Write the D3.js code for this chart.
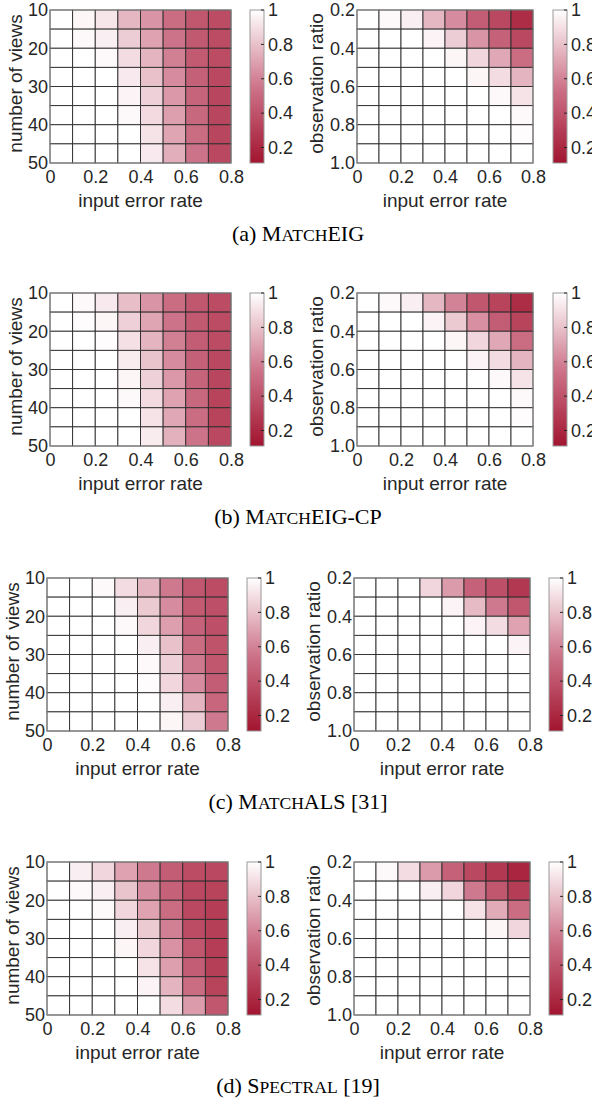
<!DOCTYPE html>
<html>
<head>
<meta charset="utf-8">
<script src="https://cdn.jsdelivr.net/npm/d3@7"></script>
<style>
  body { margin: 0; background: #fff; }
  svg { display: block; }
</style>
</head>
<body>
<div id="container"></div>
<script>
/* CONSTANTS AND GLOBALS */
const width = 592, height = 1102;
const plotH = 153, leftW = 181, rightW = 176, cbW = 14;

/* DATA */
const errRates = [0, 0.1, 0.2, 0.3, 0.4, 0.5, 0.6, 0.7];
const viewCounts = [10, 15, 20, 25, 30, 35, 40, 45];
const obsRatios = [0.2, 0.3, 0.4, 0.5, 0.6, 0.7, 0.8, 0.9];

const errTicks = [0, 0.2, 0.4, 0.6, 0.8];
const viewTicks = [10, 20, 30, 40, 50];
const obsTicks = [0.2, 0.4, 0.6, 0.8, 1.0];
const cbTicks = [0.2, 0.4, 0.6, 0.8, 1];

// rows = views / observation ratio, cols = input error rate
const eigViews = [
  [1, 0.97, 0.92, 0.77, 0.66, 0.52, 0.42, 0.37],
  [1, 0.98, 0.95, 0.84, 0.70, 0.55, 0.43, 0.37],
  [1, 1, 0.98, 0.89, 0.76, 0.59, 0.44, 0.37],
  [1, 1, 1, 0.93, 0.80, 0.63, 0.46, 0.35],
  [1, 1, 1, 0.96, 0.85, 0.67, 0.48, 0.34],
  [1, 1, 1, 0.98, 0.88, 0.69, 0.50, 0.34],
  [1, 1, 1, 1, 0.91, 0.71, 0.52, 0.34],
  [1, 1, 1, 1, 0.93, 0.74, 0.55, 0.35]
];
const eigObs = [
  [1, 0.98, 0.95, 0.77, 0.63, 0.45, 0.35, 0.22],
  [1, 1, 1, 0.96, 0.84, 0.66, 0.47, 0.35],
  [1, 1, 1, 1, 0.97, 0.87, 0.72, 0.52],
  [1, 1, 1, 1, 1, 0.97, 0.89, 0.76],
  [1, 1, 1, 1, 1, 1, 0.98, 0.91],
  [1, 1, 1, 1, 1, 1, 1, 0.98],
  [1, 1, 1, 1, 1, 1, 1, 0.99],
  [1, 1, 1, 1, 1, 1, 1, 1]
];
const eigCpViews = [
  [1, 0.98, 0.93, 0.79, 0.66, 0.52, 0.42, 0.37],
  [1, 0.99, 0.97, 0.85, 0.71, 0.55, 0.43, 0.37],
  [1, 1, 0.99, 0.90, 0.76, 0.59, 0.45, 0.37],
  [1, 1, 1, 0.94, 0.81, 0.63, 0.46, 0.35],
  [1, 1, 1, 0.97, 0.85, 0.67, 0.48, 0.34],
  [1, 1, 1, 0.98, 0.88, 0.70, 0.50, 0.33],
  [1, 1, 1, 1, 0.91, 0.72, 0.52, 0.33],
  [1, 1, 1, 1, 0.94, 0.75, 0.55, 0.35]
];
const eigCpObs = [
  [1, 0.98, 0.95, 0.77, 0.60, 0.42, 0.33, 0.22],
  [1, 1, 1, 0.96, 0.83, 0.64, 0.45, 0.33],
  [1, 1, 1, 1, 0.97, 0.87, 0.72, 0.52],
  [1, 1, 1, 1, 1, 0.96, 0.89, 0.76],
  [1, 1, 1, 1, 1, 1, 0.98, 0.91],
  [1, 1, 1, 1, 1, 1, 1, 0.98],
  [1, 1, 1, 1, 1, 1, 1, 0.99],
  [1, 1, 1, 1, 1, 1, 1, 1]
];
const alsViews = [
  [1, 1, 0.98, 0.89, 0.76, 0.57, 0.42, 0.37],
  [1, 1, 1, 0.95, 0.83, 0.63, 0.44, 0.39],
  [1, 1, 1, 0.98, 0.87, 0.69, 0.47, 0.39],
  [1, 1, 1, 1, 0.95, 0.80, 0.52, 0.40],
  [1, 1, 1, 1, 0.98, 0.85, 0.57, 0.42],
  [1, 1, 1, 1, 0.99, 0.87, 0.63, 0.45],
  [1, 1, 1, 1, 1, 0.95, 0.76, 0.49],
  [1, 1, 1, 1, 1, 0.97, 0.84, 0.57]
];
const alsObs = [
  [1, 1, 1, 0.87, 0.68, 0.47, 0.39, 0.27],
  [1, 1, 1, 1, 0.96, 0.78, 0.57, 0.42],
  [1, 1, 1, 1, 1, 0.96, 0.89, 0.70],
  [1, 1, 1, 1, 1, 1, 1, 0.96],
  [1, 1, 1, 1, 1, 1, 1, 1],
  [1, 1, 1, 1, 1, 1, 1, 1],
  [1, 1, 1, 1, 1, 1, 1, 1],
  [1, 1, 1, 1, 1, 1, 1, 1]
];
const specViews = [
  [1, 0.95, 0.87, 0.70, 0.57, 0.45, 0.37, 0.35],
  [1, 0.98, 0.95, 0.81, 0.63, 0.47, 0.35, 0.33],
  [1, 1, 0.98, 0.87, 0.70, 0.52, 0.35, 0.30],
  [1, 1, 1, 0.95, 0.83, 0.59, 0.37, 0.31],
  [1, 1, 1, 0.97, 0.87, 0.65, 0.42, 0.30],
  [1, 1, 1, 1, 0.91, 0.69, 0.45, 0.31],
  [1, 1, 1, 1, 0.96, 0.76, 0.52, 0.33],
  [1, 1, 1, 1, 1, 0.89, 0.68, 0.42]
];
const specObs = [
  [1, 0.98, 0.89, 0.68, 0.47, 0.35, 0.27, 0.19],
  [1, 1, 1, 0.95, 0.87, 0.57, 0.42, 0.30],
  [1, 1, 1, 1, 1, 0.91, 0.73, 0.52],
  [1, 1, 1, 1, 1, 1, 0.97, 0.87],
  [1, 1, 1, 1, 1, 1, 1, 1],
  [1, 1, 1, 1, 1, 1, 1, 1],
  [1, 1, 1, 1, 1, 1, 1, 1],
  [1, 1, 1, 1, 1, 1, 1, 1]
];

// caption pieces: [normal, small caps, normal]
const captions = [
  ["(a) M", "ATCH", "EIG"],
  ["(b) M", "ATCH", "EIG-CP"],
  ["(c) M", "ATCH", "ALS [31]"],
  ["(d) S", "PECTRAL", " [19]"]
];
const viewsData = [eigViews, eigCpViews, alsViews, specViews];
const obsData = [eigObs, eigCpObs, alsObs, specObs];

/* LAYOUT (row tops / left edges) */
const rows = [
  {top: 10,  lx: 50, rx: 357, lcb: 250, rcb: 553},
  {top: 293, lx: 50, rx: 357, lcb: 250, rcb: 553},
  {top: 578, lx: 47, rx: 354, lcb: 247, rcb: 549},
  {top: 862, lx: 47, rx: 354, lcb: 247, rcb: 549}
];

/* COLOR */
const colorScale = d3.scaleLinear()
  .domain([0.11, 0.55, 1])
  .range(["#a2142f", "#cd7389", "#ffffff"])
  .interpolate(d3.interpolateRgb)
  .clamp(true);

const svg = d3.select("#container").append("svg")
  .attr("width", width)
  .attr("height", height)
  .style("font-family", "'Liberation Sans', Arial, sans-serif");

const defs = svg.append("defs");
const grad = defs.append("linearGradient")
  .attr("id", "cbgrad")
  .attr("x1", 0).attr("y1", 1).attr("x2", 0).attr("y2", 0);
grad.selectAll("stop")
  .data(d3.range(0, 1.0001, 0.05))
  .join("stop")
  .attr("offset", d => d)
  .attr("stop-color", d => colorScale(0.11 + d * 0.89));

function fmt1(d) { return d === 0 ? "0" : d3.format(".1f")(d); }

function drawHeat(g, x0, w, top, matrix, rowVals, rowStep, yDomain, yTicks, yFmt, yLabel, labelGap) {
  const xScale = d3.scaleLinear().domain([0, 0.8]).range([x0, x0 + w]);
  const yScale = d3.scaleLinear().domain(yDomain).range([top, top + plotH]);

  const cells = [];
  matrix.forEach((row, i) => row.forEach((v, j) => cells.push({r: rowVals[i], c: errRates[j], v: v})));

  g.selectAll("rect.cell")
    .data(cells)
    .join("rect")
    .attr("class", "cell")
    .attr("x", d => xScale(d.c))
    .attr("y", d => yScale(d.r))
    .attr("width", d => xScale(d.c + 0.1) - xScale(d.c))
    .attr("height", d => yScale(d.r + rowStep) - yScale(d.r))
    .attr("fill", d => colorScale(d.v))
    .attr("stroke", "#2b2b2b")
    .attr("stroke-width", 0.9);

  g.append("rect")
    .attr("x", x0).attr("y", top)
    .attr("width", w).attr("height", plotH)
    .attr("fill", "none")
    .attr("stroke", "#8f8f8f")
    .attr("stroke-width", 1);

  // x axis
  const xa = g.append("g")
    .attr("transform", `translate(0,${top + plotH})`)
    .call(d3.axisBottom(xScale).tickValues(errTicks).tickSize(0).tickPadding(7).tickFormat(fmt1));
  xa.select(".domain").remove();
  xa.selectAll("text").attr("font-size", 18).attr("fill", "#262626")
    .attr("font-family", "'Liberation Sans', Arial, sans-serif");

  // y axis
  const ya = g.append("g")
    .attr("transform", `translate(${x0},0)`)
    .call(d3.axisLeft(yScale).tickValues(yTicks).tickSize(0).tickPadding(2).tickFormat(yFmt));
  ya.select(".domain").remove();
  ya.selectAll("text").attr("font-size", 18).attr("fill", "#262626")
    .attr("font-family", "'Liberation Sans', Arial, sans-serif");

  g.append("text")
    .attr("x", x0 + w / 2)
    .attr("y", top + plotH + 44)
    .attr("text-anchor", "middle")
    .attr("font-size", 19)
    .attr("fill", "#262626")
    .text("input error rate");

  g.append("text")
    .attr("transform", `translate(${x0 - labelGap},${top + plotH / 2 - 3}) rotate(-90)`)
    .attr("text-anchor", "middle")
    .attr("font-size", 19)
    .attr("fill", "#262626")
    .text(yLabel);
}

function drawColorbar(g, x0, top) {
  const cbScale = d3.scaleLinear().domain([0.11, 1]).range([top + plotH, top]);
  g.append("rect")
    .attr("x", x0).attr("y", top)
    .attr("width", cbW).attr("height", plotH)
    .attr("fill", "url(#cbgrad)")
    .attr("stroke", "#9a9a9a")
    .attr("stroke-width", 1);
  g.selectAll("line.cbtick")
    .data(cbTicks)
    .join("line")
    .attr("class", "cbtick")
    .attr("x1", x0 + cbW - 3).attr("x2", x0 + cbW)
    .attr("y1", d => cbScale(d)).attr("y2", d => cbScale(d))
    .attr("stroke", "#262626")
    .attr("stroke-width", 1);
  g.selectAll("text.cblabel")
    .data(cbTicks)
    .join("text")
    .attr("class", "cblabel")
    .attr("x", x0 + cbW + 4)
    .attr("y", d => cbScale(d))
    .attr("dy", "0.35em")
    .attr("font-size", 18)
    .attr("fill", "#262626")
    .text(d => d === 1 ? "1" : d3.format(".1f")(d));
}

rows.forEach((row, k) => {
  const gl = svg.append("g");
  drawHeat(gl, row.lx, leftW, row.top, viewsData[k], viewCounts, 5, [10, 50], viewTicks, d3.format("d"), "number of views", 28);
  drawColorbar(gl, row.lcb, row.top);

  const gr = svg.append("g");
  drawHeat(gr, row.rx, rightW, row.top, obsData[k], obsRatios, 0.1, [0.2, 1.0], obsTicks, d3.format(".1f"), "observation ratio", 34);
  drawColorbar(gr, row.rcb, row.top);

  const cap = svg.append("text")
    .attr("x", 298)
    .attr("y", row.top + 231)
    .attr("text-anchor", "middle")
    .attr("font-family", "'Liberation Serif', 'Times New Roman', serif")
    .attr("font-size", 22)
    .attr("fill", "#000");
  cap.append("tspan").text(captions[k][0]);
  cap.append("tspan").attr("font-size", 17.6).text(captions[k][1]);
  cap.append("tspan").text(captions[k][2]);
});
</script>
</body>
</html>
